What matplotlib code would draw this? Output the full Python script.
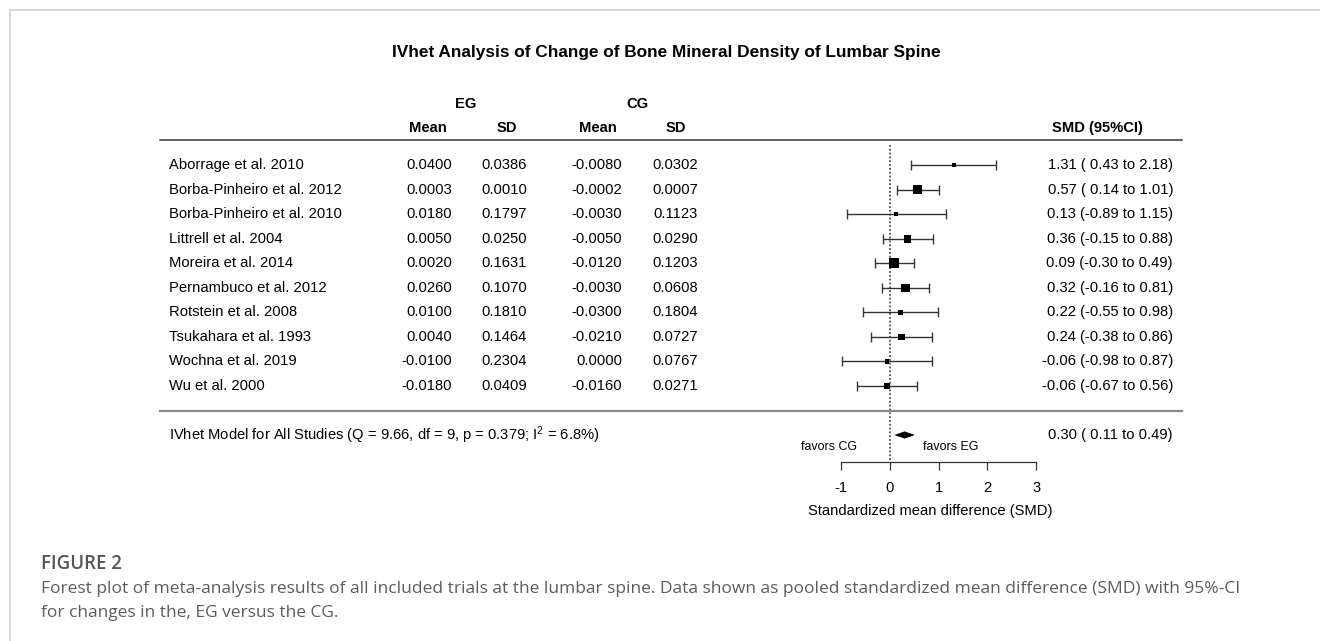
import matplotlib
matplotlib.use("Agg")
import matplotlib.pyplot as plt
import matplotlib.transforms as mtransforms
from matplotlib.lines import Line2D
from matplotlib.patches import Polygon
import numpy as np

# ---------------- data ----------------
studies = ["Aborrage et al. 2010", "Borba-Pinheiro et al. 2012", "Borba-Pinheiro et al. 2010",
           "Littrell et al. 2004", "Moreira et al. 2014", "Pernambuco et al. 2012",
           "Rotstein et al. 2008", "Tsukahara et al. 1993", "Wochna et al. 2019", "Wu et al. 2000"]
eg_mean = [0.0400, 0.0003, 0.0180, 0.0050, 0.0020, 0.0260, 0.0100, 0.0040, -0.0100, -0.0180]
eg_sd = [0.0386, 0.0010, 0.1797, 0.0250, 0.1631, 0.1070, 0.1810, 0.1464, 0.2304, 0.0409]
cg_mean = [-0.0080, -0.0002, -0.0030, -0.0050, -0.0120, -0.0030, -0.0300, -0.0210, 0.0000, -0.0160]
cg_sd = [0.0302, 0.0007, 0.1123, 0.0290, 0.1203, 0.0608, 0.1804, 0.0727, 0.0767, 0.0271]
smd = [1.31, 0.57, 0.13, 0.36, 0.09, 0.32, 0.22, 0.24, -0.06, -0.06]
ci_low = [0.43, 0.14, -0.89, -0.15, -0.30, -0.16, -0.55, -0.38, -0.98, -0.67]
ci_high = [2.18, 1.01, 1.15, 0.88, 0.49, 0.81, 0.98, 0.86, 0.87, 0.56]
weights = [4.3, 17.5, 3.2, 12.5, 21.5, 14.1, 5.7, 8.6, 3.9, 8.8]  # percent (estimated)
pooled = 0.30
pooled_low = 0.11
pooled_high = 0.49
summary_label = r"IVhet Model for All Studies (Q = 9.66, df = 9, p = 0.379; I$^{2}$ = 6.8%)"
title = "IVhet Analysis of Change of Bone Mineral Density of Lumbar Spine"
xticks = [-1, 0, 1, 2, 3]
xlabel = "Standardized mean difference (SMD)"
caption_head = "FIGURE 2"
caption_lines = ["Forest plot of meta-analysis results of all included trials at the lumbar spine. "
                 "Data shown as pooled standardized mean difference (SMD) with 95%-CI",
                 "for changes in the, EG versus the CG."]

# ---------------- layout ----------------
W, H = 1320, 641
plt.rcParams["font.family"] = ["Liberation Sans", "DejaVu Sans"]
plt.rcParams["mathtext.fontset"] = "custom"
plt.rcParams["mathtext.rm"] = "Liberation Sans"
plt.rcParams["mathtext.it"] = "Liberation Sans:italic"
plt.rcParams["mathtext.bf"] = "Liberation Sans:bold"
fig = plt.figure(figsize=(W / 100, H / 100), dpi=100)
fig.patch.set_facecolor("white")

FS = 10.6
row0_px, row_px = 165.0, 24.55
zero_px, unit_px = 890.0, 48.7
ax_l_px, ax_r_px = 800.0, 1060.0
ax_t_px, ax_b_px = 140.0, 475.0


def prow(p):
    return (p - row0_px) / row_px


ax = fig.add_axes([ax_l_px / W, 1 - ax_b_px / H, (ax_r_px - ax_l_px) / W, (ax_b_px - ax_t_px) / H])
ax.set_xlim((ax_l_px - zero_px) / unit_px, (ax_r_px - zero_px) / unit_px)
ax.set_ylim(prow(ax_b_px), prow(ax_t_px))
ax.patch.set_alpha(0)
for s in ["top", "left", "right"]:
    ax.spines[s].set_visible(False)
axis_row = prow(462)
ax.spines["bottom"].set_position(("data", axis_row))
ax.spines["bottom"].set_bounds(min(xticks), max(xticks))
ax.spines["bottom"].set_color("#333333")
ax.spines["bottom"].set_linewidth(0.9)
ax.set_yticks([])
ax.set_xticks(xticks)
ax.set_xticklabels([str(t) for t in xticks])
ax.tick_params(axis="x", direction="out", length=6, width=0.9, color="#333333",
               labelsize=FS, pad=7.5, labelcolor="black")
ax.set_xlabel(xlabel, fontsize=FS, labelpad=7)

rows = np.arange(len(studies))
smd_a = np.array(smd)
lo_a = np.array(ci_low)
hi_a = np.array(ci_high)

# reference line
ax.vlines(0, prow(ax_t_px) + 0.2, axis_row, colors="#333333", linestyles=(0, (1.2, 1.3)), linewidth=1.1)

# CIs
ax.errorbar(smd_a, rows, xerr=[smd_a - lo_a, hi_a - smd_a], fmt="none", ecolor="#333333",
            elinewidth=1.0, capsize=3.4, capthick=1.0, zorder=2)
# squares
side_px = 2.2 * np.sqrt(np.array(weights))
ax.scatter(smd_a, rows, marker="s", s=(side_px * 0.72) ** 2, color="black", linewidths=0, zorder=3)

# diamond
sum_row = prow(435)
dh = 3.2 / row_px
ax.add_patch(Polygon([(pooled_low, sum_row), (pooled, sum_row - dh), (pooled_high, sum_row),
                      (pooled, sum_row + dh)], closed=True, facecolor="black", edgecolor="black",
                     linewidth=0.5))

ax.text(-1.25, prow(447), "favors CG", fontsize=8.9, ha="center", va="center")
ax.text(1.25, prow(447), "favors EG", fontsize=8.9, ha="center", va="center")

# ---------------- table ----------------
bt = mtransforms.blended_transform_factory(fig.transFigure, ax.transData)


def tx(xp, y, s, **kw):
    kw.setdefault("fontsize", FS)
    kw.setdefault("va", "center")
    ax.text(xp / W, y, s, transform=bt, clip_on=False, **kw)


tx(466, prow(104), "EG", ha="center", fontweight="bold")
tx(637, prow(104), "CG", ha="center", fontweight="bold")
for xp, lab in [(428, "Mean"), (507, "SD"), (598, "Mean"), (676, "SD")]:
    tx(xp, prow(128), lab, ha="center", fontweight="bold")
tx(1097, prow(128), "SMD (95%CI)", ha="center", fontweight="bold")

for i, name in enumerate(studies):
    tx(169, i, name, ha="left")
    tx(452, i, f"{eg_mean[i]:.4f}", ha="right")
    tx(527, i, f"{eg_sd[i]:.4f}", ha="right")
    tx(622, i, f"{cg_mean[i]:.4f}", ha="right")
    tx(698, i, f"{cg_sd[i]:.4f}", ha="right")
    tx(1173, i, f"{smd[i]:.2f} ({ci_low[i]:5.2f} to {ci_high[i]:.2f})", ha="right")

tx(169, sum_row, summary_label, ha="left")
tx(1173, sum_row, f"{pooled:.2f} ({pooled_low:5.2f} to {pooled_high:.2f})", ha="right")

ax.add_line(Line2D([160 / W, 1182 / W], [prow(139.5)] * 2, transform=bt, color="#333333",
                   linewidth=1.1, clip_on=False))
ax.add_line(Line2D([160 / W, 1182 / W], [prow(410.5)] * 2, transform=bt, color="#888888",
                   linewidth=1.6, clip_on=False))

fig.text(666 / W, 1 - 52 / H, title, fontsize=12.4, fontweight="bold", ha="center", va="center")

# ---------------- page frame & caption ----------------
fig.add_artist(Line2D([10 / W, 1], [1 - 10 / H] * 2, transform=fig.transFigure, color="#d9d9d9",
                      linewidth=1.4))
fig.add_artist(Line2D([10 / W] * 2, [0, 1 - 10 / H], transform=fig.transFigure, color="#d9d9d9",
                      linewidth=1.4))

fig.text(41 / W, 1 - 564 / H, caption_head, fontsize=13.4, fontweight="semibold", color="#555555",
         ha="left", va="center", family=["Open Sans", "DejaVu Sans"])
for k, line in enumerate(caption_lines):
    fig.text(41 / W, 1 - (589 + 24 * k) / H, line, fontsize=12.5, color="#5c5c5c",
             ha="left", va="center", family=["Open Sans", "DejaVu Sans"])

fig.savefig("out.png", dpi=100, facecolor="white")
